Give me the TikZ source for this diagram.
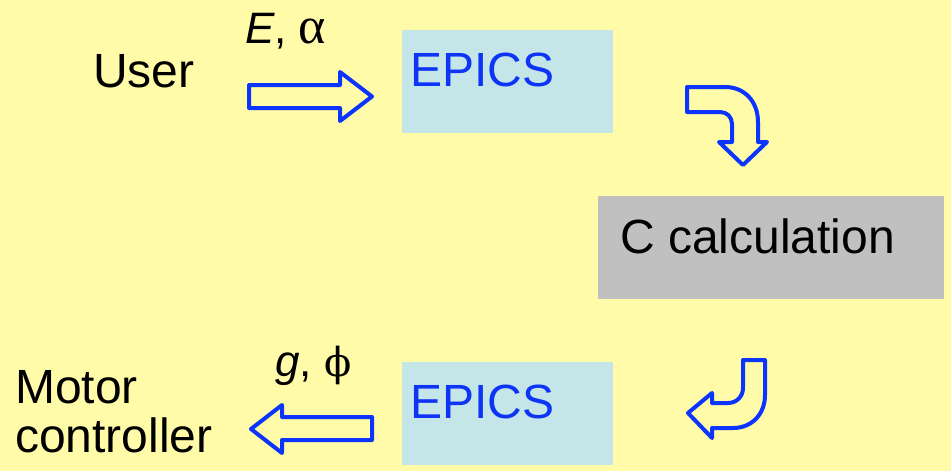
\documentclass[tikz,border=0pt]{standalone}
\usepackage{fontspec}
\setmainfont{Liberation Sans}
\newfontfamily\grk{Liberation Serif}
\newfontfamily\grkb{DejaVu Serif}
\definecolor{bgyellow}{RGB}{255,251,168}
\definecolor{boxblue}{RGB}{196,230,233}
\definecolor{boxgray}{RGB}{192,192,192}
\definecolor{arrowblue}{RGB}{12,52,255}
\definecolor{textblue}{RGB}{14,52,246}
\begin{document}
\begin{tikzpicture}[x=1pt,y=-1pt,
  bigtext/.style={font=\fontsize{48}{50}\selectfont, inner sep=0pt, anchor=base west},
  smalltext/.style={font=\fontsize{44}{46}\selectfont, inner sep=0pt, anchor=base west},
  panel/.style={anchor=north west, inner sep=0pt, draw=none},
  blockarrow/.style={draw=arrowblue, line width=4pt, line join=round, fill=bgyellow}]
\fill[bgyellow] (0,0) rectangle (951,471);
\useasboundingbox (0,0) rectangle (951,471);
% boxes
\node[panel, fill=boxblue, minimum width=211pt, minimum height=103pt] (epicsA) at (402,30) {};
\node[panel, fill=boxgray, minimum width=346pt, minimum height=103pt] (calc) at (598,196) {};
\node[panel, fill=boxblue, minimum width=211pt, minimum height=103pt] (epicsB) at (402,362) {};
% texts
\node[bigtext] (user) at (93,87) {User};
\node[bigtext, text=textblue] (epicsAt) at (410,86) {EPICS};
\node[bigtext] (calct) at (620,253) {C calculation};
\node[bigtext, text=textblue] (epicsBt) at (410,418) {EPICS};
\node[bigtext] (motor) at (15,403) {Motor};
\node[bigtext] (ctrl) at (15,452) {controller};
\node[smalltext] (ea) at (245,43) {\textit{E}, {\grk\fontsize{52}{52}\selectfont α}};
\node[smalltext] (gp) at (275,376) {\textit{g}, {\grkb\fontsize{40}{40}\selectfont ϕ}};
% straight block arrows
\draw[blockarrow] (249,85) -- (340,85) -- (340,72) -- (372,96.5) -- (340,121) -- (340,108) -- (249,108) -- cycle;
\draw[blockarrow] (372,417) -- (282,417) -- (282,405) -- (251,429) -- (282,453) -- (282,440) -- (372,440) -- cycle;
% curved block arrows
\draw[blockarrow] (687,87) -- (725,87) .. controls (745,87) and (758,102) .. (758,122) -- (758,142) -- (767,142) -- (743,165) -- (719,142) -- (732,142) -- (732,124) .. controls (732,117) and (727,112) .. (720,112) -- (687,112) -- cycle;
\draw[blockarrow] (743,360) -- (765,360) -- (765,395) .. controls (765,414) and (752,428) .. (733,428) -- (712,428) -- (712,438) -- (688,413) -- (712,393) -- (712,403) -- (728,403) .. controls (737,403) and (743,396) .. (743,388) -- cycle;
\end{tikzpicture}
\end{document}
